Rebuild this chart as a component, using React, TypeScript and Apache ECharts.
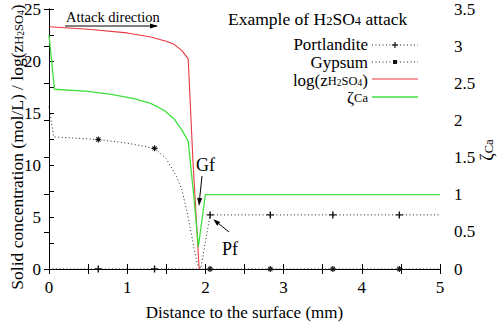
import { useEffect, useRef } from "react";
import * as echarts from "echarts";

// Distance to the surface (mm) / value pairs for each profile
const portlandite: [number, number][] = [
  [0, 0], [0.63, 0], [1.35, 0], [1.94, 0], [2.06, 5.2], [2.83, 5.2], [3.63, 5.2], [4.48, 5.2], [5, 5.2],
];
const gypsum: [number, number][] = [
  [0, 15.6], [0.06, 12.7], [0.3, 12.6], [0.63, 12.45], [1.0, 12.1], [1.35, 11.6], [1.5, 10.6],
  [1.63, 8.9], [1.7, 7.6], [1.76, 5.7], [1.82, 3.4], [1.86, 1.8], [1.9, 0.4], [1.95, 0],
  [2.06, 0], [2.83, 0], [3.63, 0], [4.48, 0], [5, 0],
];
const logZ: [number, number][] = [
  [0, 23.3], [0.5, 23.05], [1.0, 22.7], [1.3, 22.3], [1.5, 21.9], [1.6, 21.6], [1.7, 21.0],
  [1.78, 20.2], [1.84, 10.5], [1.92, 0],
];
const zetaCa: [number, number][] = [
  [0, 3.15], [0.07, 2.42], [0.5, 2.39], [0.8, 2.35], [1.1, 2.29], [1.3, 2.23], [1.48, 2.13],
  [1.6, 2.02], [1.7, 1.87], [1.78, 1.72], [1.85, 1.0], [1.91, 0.3], [2.0, 1.0], [5, 1.0],
];
// distances where point markers are drawn on the solid profiles
const markerX = [0.63, 1.35, 2.06, 2.83, 3.63, 4.48];

const FONT = "'Liberation Serif', 'Times New Roman', Times, serif";
const PLUS = "path://M4,0H6V4H10V6H6V10H4V6H0V4H4Z";
const STAR = "path://M4,0H6V3L8,1L9,2L7,4H10V6H7L9,8L8,9L6,7V10H4V7L2,9L1,8L3,6H0V4H3L1,2L2,1L4,3Z";

const RED = "#e8383f";
const GREEN = "#3ee03e";

// base text plus one and two levels of subscript
const richText = (size: number, lh: number) => ({
  b: { fontSize: size, fontFamily: FONT, lineHeight: lh, fill: "#000", color: "#000" },
  s: { fontSize: 12.5, fontFamily: FONT, verticalAlign: "bottom" as const, lineHeight: Math.max(1, lh - 11), fill: "#000", color: "#000" },
  ss: { fontSize: 9.5, fontFamily: FONT, verticalAlign: "bottom" as const, lineHeight: 1, fill: "#000", color: "#000" },
});

function withMarkers(data: [number, number][], symbol: string) {
  return data.map(([x, y]) =>
    markerX.includes(x) ? { value: [x, y], symbol } : { value: [x, y], symbol: "none" }
  );
}

export default function App() {
  const ref = useRef<HTMLDivElement>(null);
  useEffect(() => {
    if (!ref.current) return;
    const chart = echarts.init(ref.current, null, { renderer: "svg" });
    const axisLine = { show: true, lineStyle: { color: "#000", width: 1 } };
    const tick = { show: true, inside: true, length: 5, lineStyle: { color: "#000", width: 1 } };
    const minor = { show: true, splitNumber: 2, length: 5, lineStyle: { color: "#000", width: 1 } };
    const label = { color: "#000", fontFamily: FONT, fontSize: 17 };
    const dotted = { color: "#222", width: 1, type: [1, 2.5] as number[] };
    const legendText = (text: string, y: number) => ({
      type: "text",
      style: { text, x: 368, y, align: "right", verticalAlign: "middle", rich: richText(17, 15) },
    });
    chart.setOption({
      animation: false,
      backgroundColor: "#fff",
      textStyle: { fontFamily: FONT, color: "#000" },
      grid: { left: 49, right: 63, top: 9, bottom: 55, containLabel: false, outerBoundsMode: "none" },
      xAxis: [
        {
          type: "value", min: 0, max: 5, interval: 1, position: "bottom",
          axisLine, axisTick: tick, minorTick: minor, splitLine: { show: false },
          axisLabel: { ...label, margin: 10 },
          name: "Distance to the surface (mm)", nameLocation: "middle", nameGap: 35,
          nameTextStyle: { color: "#000", fontFamily: FONT, fontSize: 17 },
        },
        {
          type: "value", min: 0, max: 5, interval: 1, position: "top",
          axisLine, axisTick: tick, minorTick: minor, splitLine: { show: false },
          axisLabel: { show: false },
        },
      ],
      yAxis: [
        {
          type: "value", min: 0, max: 25, interval: 5, position: "left",
          axisLine, axisTick: tick, minorTick: minor, splitLine: { show: false },
          axisLabel: { ...label, margin: 8 },
        },
        {
          type: "value", min: 0, max: 3.5, interval: 0.5, position: "right",
          axisLine, axisTick: tick, splitLine: { show: false },
          axisLabel: { ...label, margin: 14 },
        },
      ],
      series: [
        {
          name: "Portlandite", type: "line", xAxisIndex: 0, yAxisIndex: 0,
          data: withMarkers(portlandite, PLUS), symbol: PLUS, symbolSize: 7, showAllSymbol: true,
          lineStyle: dotted, itemStyle: { color: "#111" }, z: 3,
        },
        {
          name: "Gypsum", type: "line", xAxisIndex: 0, yAxisIndex: 0,
          data: withMarkers(gypsum, STAR), symbol: STAR, symbolSize: 6, showAllSymbol: true,
          lineStyle: dotted, itemStyle: { color: "#111" }, z: 3,
        },
        {
          name: "log(zH2SO4)", type: "line", xAxisIndex: 0, yAxisIndex: 0,
          data: logZ, showSymbol: false, symbol: "none",
          lineStyle: { color: RED, width: 1.1 }, z: 2,
        },
        {
          name: "ζCa", type: "line", xAxisIndex: 0, yAxisIndex: 1,
          data: zetaCa, showSymbol: false, symbol: "none",
          lineStyle: { color: GREEN, width: 1.3 }, z: 2,
        },
      ],
      graphic: [
        // axis titles (left one runs past the top edge)
        {
          type: "text", x: 17, y: 147, rotation: Math.PI / 2,
          style: {
            text: "{b|Solid concentration (mol/L) / log(z}{s|H}{ss|2}{s|SO}{ss|4}{b|)}",
            align: "center", verticalAlign: "middle", rich: richText(17.5, 17),
          },
        },
        {
          type: "text", x: 487, y: 150, rotation: Math.PI / 2,
          style: { text: "{b|ζ}{s|Ca}", align: "center", verticalAlign: "middle", rich: richText(18, 17) },
        },
        // attack direction
        { type: "text", style: { text: "Attack direction", x: 66, y: 17, fontFamily: FONT, fontSize: 14.5, fill: "#000", verticalAlign: "middle" } },
        { type: "line", shape: { x1: 65, y1: 26, x2: 157, y2: 26 }, style: { stroke: "#000", lineWidth: 1 } },
        { type: "polygon", shape: { points: [[158, 26], [150, 23.5], [150, 28.5]] }, style: { fill: "#000" } },
        // title
        {
          type: "text",
          style: { text: "{b|Example of H}{s|2}{b|SO}{s|4}{b| attack}", x: 228, y: 19, verticalAlign: "middle", rich: richText(17.5, 16) },
        },
        // legend
        legendText("{b|Portlandite}", 44),
        { type: "line", shape: { x1: 372, y1: 45, x2: 418, y2: 45 }, style: { stroke: "#222", lineWidth: 1, lineDash: [1, 2.5] } },
        { type: "line", shape: { x1: 395, y1: 42, x2: 395, y2: 48 }, style: { stroke: "#111", lineWidth: 1.2 } },
        { type: "line", shape: { x1: 392, y1: 45, x2: 398, y2: 45 }, style: { stroke: "#111", lineWidth: 1.2 } },
        legendText("{b|Gypsum}", 62),
        { type: "line", shape: { x1: 372, y1: 62, x2: 418, y2: 62 }, style: { stroke: "#222", lineWidth: 1, lineDash: [1, 2.5] } },
        { type: "rect", shape: { x: 393, y: 60, width: 4, height: 4 }, style: { fill: "#111" } },
        legendText("{b|log(z}{s|H}{ss|2}{s|SO}{ss|4}{b|)}", 80),
        { type: "line", shape: { x1: 372, y1: 79, x2: 418, y2: 79 }, style: { stroke: RED, lineWidth: 1.1 } },
        legendText("{b|ζ}{s|Ca}", 97),
        { type: "line", shape: { x1: 372, y1: 97, x2: 418, y2: 97 }, style: { stroke: GREEN, lineWidth: 1.3 } },
        // front labels
        { type: "text", style: { text: "Gf", x: 196, y: 165, verticalAlign: "middle", fontFamily: FONT, fontSize: 18, fill: "#000" } },
        { type: "line", shape: { x1: 202, y1: 176, x2: 199.6, y2: 199 }, style: { stroke: "#000", lineWidth: 1 } },
        { type: "polygon", shape: { points: [[199, 206], [202.2, 198.3], [197.2, 197.7]] }, style: { fill: "#000" } },
        { type: "text", style: { text: "Pf", x: 222, y: 249, verticalAlign: "middle", fontFamily: FONT, fontSize: 18, fill: "#000" } },
        { type: "line", shape: { x1: 229, y1: 232, x2: 218.5, y2: 223.5 }, style: { stroke: "#000", lineWidth: 1 } },
        { type: "polygon", shape: { points: [[213.3, 219.3], [220.3, 221.9], [217.1, 225.7]] }, style: { fill: "#000" } },
      ],
    });
    return () => chart.dispose();
  }, []);
  return <div ref={ref} style={{ position: "absolute", left: 0, top: 0, width: 503, height: 324 }} />;
}
